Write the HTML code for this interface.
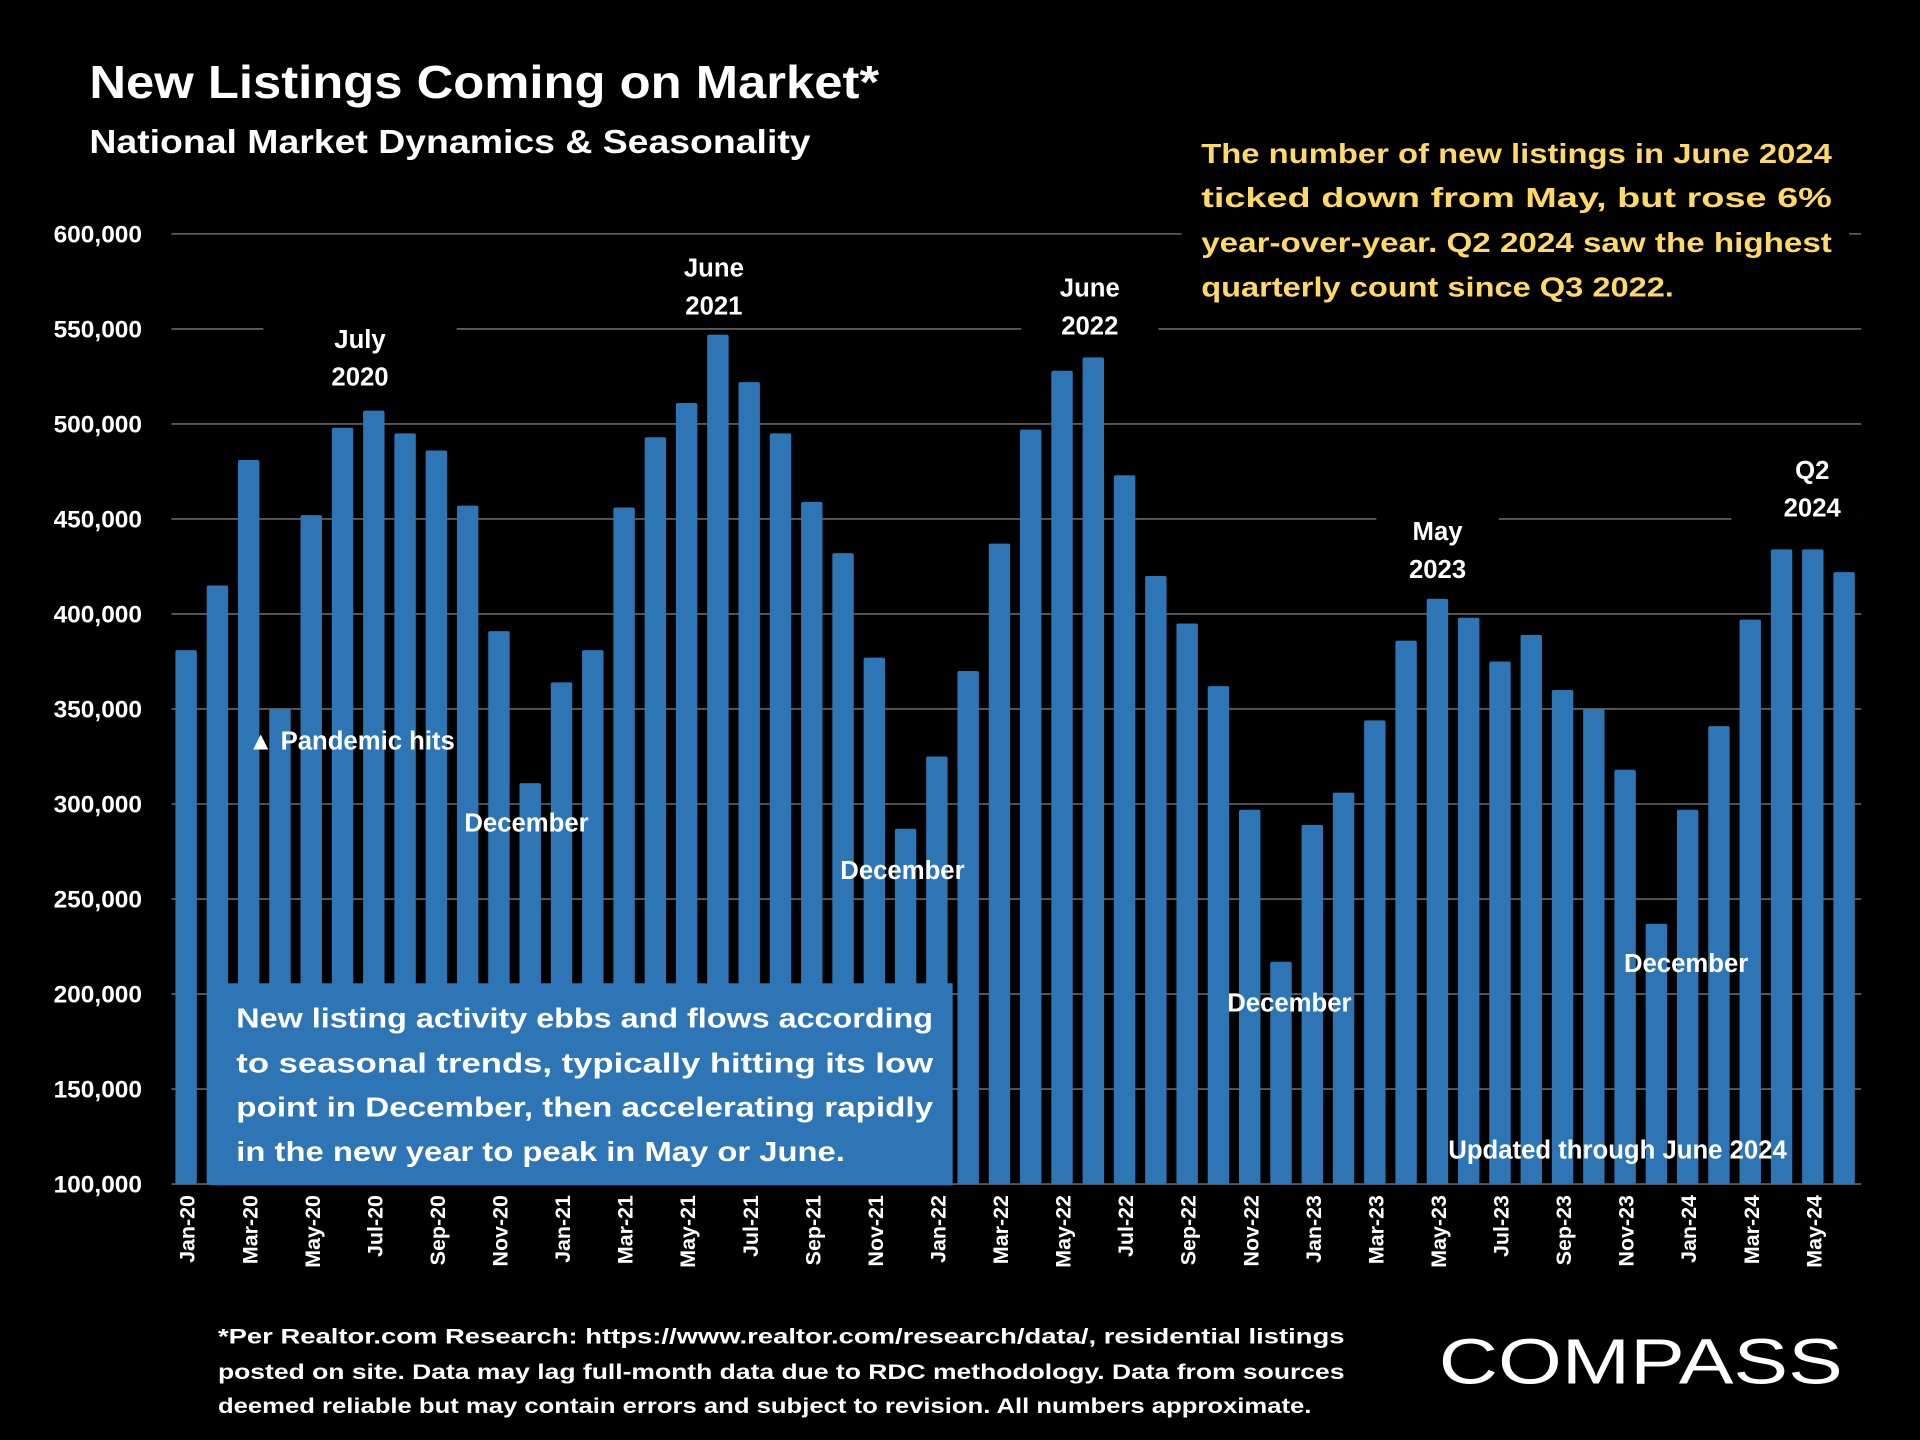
<!DOCTYPE html>
<html><head><meta charset="utf-8">
<style>
html,body{margin:0;padding:0;background:#000;}
svg{display:block;}
text{font-family:"Liberation Sans",sans-serif;font-weight:bold;}
</style></head>
<body>
<svg id="chart" width="1920" height="1440" viewBox="0 0 1568 1176" xmlns="http://www.w3.org/2000/svg">
<rect width="1568" height="1176" fill="#000"/>
<text x="73" y="80" fill="#fff" font-size="38" textLength="645" lengthAdjust="spacingAndGlyphs">New Listings Coming on Market*</text>
<text x="73" y="125" fill="#fff" font-size="27" textLength="589" lengthAdjust="spacingAndGlyphs">National Market Dynamics &amp; Seasonality</text>
<g id="grid"></g>
<g id="yaxis"></g>
<g id="bars"></g>
<g id="xaxis"></g>
<g id="notes"></g>
<rect x="172" y="803" width="606" height="165" fill="#2e75b6"/>
<g fill="#fff" font-size="22.5">
<text x="193" y="839" textLength="569" lengthAdjust="spacingAndGlyphs">New listing activity ebbs and flows according</text>
<text x="193" y="876" textLength="569" lengthAdjust="spacingAndGlyphs">to seasonal trends, typically hitting its low</text>
<text x="193" y="912" textLength="569" lengthAdjust="spacingAndGlyphs">point in December, then accelerating rapidly</text>
<text x="193" y="948" textLength="497" lengthAdjust="spacingAndGlyphs">in the new year to peak in May or June.</text>
</g>
<rect x="965" y="100" width="545" height="160" fill="#000"/>
<g fill="#ffd966" font-size="23">
<text x="981" y="133" textLength="515" lengthAdjust="spacingAndGlyphs">The number of new listings in June 2024</text>
<text x="981" y="169" textLength="515" lengthAdjust="spacingAndGlyphs">ticked  down  from  May,  but  rose  6%</text>
<text x="981" y="206" textLength="515" lengthAdjust="spacingAndGlyphs">year-over-year. Q2 2024 saw the highest</text>
<text x="981" y="242" textLength="386" lengthAdjust="spacingAndGlyphs">quarterly count since Q3 2022.</text>
</g>
<g fill="#fff" font-size="17">
<text x="178" y="1097" textLength="920" lengthAdjust="spacingAndGlyphs">*Per Realtor.com Research:   https://www.realtor.com/research/data/, residential listings</text>
<text x="178" y="1126" textLength="920" lengthAdjust="spacingAndGlyphs">posted on site. Data may lag full-month data due to RDC methodology. Data from sources</text>
<text x="178" y="1154" textLength="893" lengthAdjust="spacingAndGlyphs">deemed reliable but may contain errors and subject to revision. All numbers approximate.</text>
</g>
<text x="1175" y="1130" fill="#fff" font-size="52" textLength="330" lengthAdjust="spacingAndGlyphs" style="font-weight:normal">COMPASS</text>
<script>
const categories=["Jan-20","Feb-20","Mar-20","Apr-20","May-20","Jun-20","Jul-20","Aug-20","Sep-20","Oct-20","Nov-20","Dec-20","Jan-21","Feb-21","Mar-21","Apr-21","May-21","Jun-21","Jul-21","Aug-21","Sep-21","Oct-21","Nov-21","Dec-21","Jan-22","Feb-22","Mar-22","Apr-22","May-22","Jun-22","Jul-22","Aug-22","Sep-22","Oct-22","Nov-22","Dec-22","Jan-23","Feb-23","Mar-23","Apr-23","May-23","Jun-23","Jul-23","Aug-23","Sep-23","Oct-23","Nov-23","Dec-23","Jan-24","Feb-24","Mar-24","Apr-24","May-24","Jun-24"];
const listings=[381000,415000,481000,350000,452000,498000,507000,495000,486000,457000,391000,311000,364000,381000,456000,493000,511000,547000,522000,495000,459000,432000,377000,287000,325000,370000,437000,497000,528000,535000,473000,420000,395000,362000,297000,217000,289000,306000,344000,386000,408000,398000,375000,389000,360000,350000,318000,237000,297000,341000,397000,434000,434000,422000];
const yTicks=[100000,150000,200000,250000,300000,350000,400000,450000,500000,550000,600000];
const NS="http://www.w3.org/2000/svg";
const y0=967,y1=191,vmin=100000,vmax=600000;
function yScale(v){return y0-(v-vmin)/(vmax-vmin)*(y0-y1);}
const xStart=152,xStep=(1506-152)/53;
function xScale(i){return xStart+i*xStep;}
function mk(tag,attrs,parent){const e=document.createElementNS(NS,tag);for(const k in attrs)e.setAttribute(k,attrs[k]);parent.appendChild(e);return e;}
const grid=document.getElementById('grid'),yax=document.getElementById('yaxis'),bars=document.getElementById('bars'),xax=document.getElementById('xaxis'),notes=document.getElementById('notes');
yTicks.forEach(t=>{
  const l=mk('line',{x1:140,x2:1520,y1:yScale(t),y2:yScale(t),stroke:'#595959','stroke-width':1.5},grid);
  
  
  const tx=mk('text',{x:116,y:yScale(t)+7,fill:'#fff','font-size':20,'text-anchor':'end'},yax);
  tx.textContent=t.toLocaleString('en-US');
  
  
});
const bw=17.5;
listings.forEach((v,i)=>{
  const r=mk('rect',{x:xScale(i)-bw/2,y:yScale(v),width:bw,height:y0-yScale(v),fill:'#2e75b6',rx:1.5},bars);
  
  
});
categories.forEach((c,i)=>{
  if(i%2)return;
  const x=xScale(i)+7;
  const t=mk('text',{x:x,y:976,fill:'#fff','font-size':17.5,'text-anchor':'end',transform:`rotate(-90 ${x} 976)`},xax);
  t.textContent=c;
  
  
});
const anns=[
  {lines:["July","2020"],x:294,y:284,bg:[215,260,158,60]},
  {lines:["June","2021"],x:583,y:226,bg:[530,202,106,60]},
  {lines:["June","2022"],x:890,y:242,bg:[834,218,112,60]},
  {lines:["May","2023"],x:1174,y:441,bg:[1124,417,100,60]},
  {lines:["Q2","2024"],x:1480,y:391,bg:[1414,367,106,60]},
  {lines:["December"],x:430,y:679},
  {lines:["December"],x:737,y:718},
  {lines:["December"],x:1053,y:826},
  {lines:["December"],x:1377,y:794},
  {lines:["Updated through June 2024"],x:1321,y:946},
  {lines:["\u25B2 Pandemic hits"],x:287,y:612}
];
anns.forEach(a=>{
  if(a.bg){const b=mk('rect',{x:a.bg[0],y:a.bg[1],width:a.bg[2],height:a.bg[3],fill:'#000'},notes);
    
    }
  a.lines.forEach((s,j)=>{
    const t=mk('text',{x:a.x,y:a.y+j*31,fill:'#fff','font-size':21,'text-anchor':'middle'},notes);
    t.textContent=s;
    
    
  });
});
</script>
</svg>
</body></html>
